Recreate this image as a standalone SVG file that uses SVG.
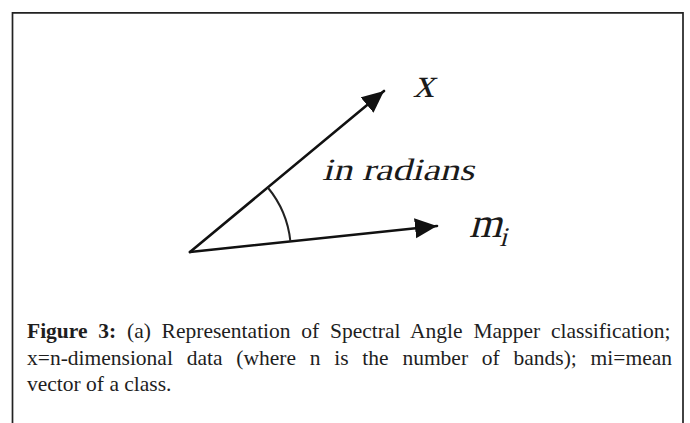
<svg xmlns="http://www.w3.org/2000/svg" width="690" height="423" viewBox="0 0 690 423">
  <style>
    .vec { stroke: #111; stroke-width: 2.6; fill: none; stroke-linecap: round; }
    .arc { stroke: #222; stroke-width: 2; fill: none; }
    .math { font-family: "Liberation Serif", "Times New Roman", serif; fill: #1a1a1a; }
    .cap { font-family: "Liberation Serif", "Times New Roman", serif; font-size: 21.5px; fill: #1e1e1e; }
    .bold { font-weight: bold; }
  </style>
  <defs>
    <marker id="arrow" markerUnits="userSpaceOnUse" markerWidth="24" markerHeight="22" refX="22" refY="10" orient="auto">
      <path d="M0,0 L22,10 L0,20 Z" fill="#111"/>
    </marker>
  </defs>
  <rect width="690" height="423" fill="#ffffff"/>
  <g id="frame">
    <path d="M12.5,424 V12.8 H683 V424" fill="none" stroke="#222" stroke-width="1.7"/>
  </g>
  <g id="connectors">
    <line id="vec-x" class="vec" x1="190" y1="252" x2="384" y2="91" marker-end="url(#arrow)"/>
    <line id="vec-m" class="vec" x1="190" y1="252" x2="437" y2="226" marker-end="url(#arrow)"/>
    <path id="angle-arc" class="arc" d="M267.8,187.5 A101,101 0 0 1 290.4,241.4"/>
  </g>
  <g id="label-x" transform="translate(413,97) skewX(-15)">
    <text class="math" x="0" y="0" font-size="42">x</text>
  </g>
  <g id="label-angle" transform="translate(322,180) skewX(-15)">
    <text class="math" x="0" y="0" font-size="31" textLength="152" lengthAdjust="spacingAndGlyphs">in radians</text>
  </g>
  <g id="label-mi" transform="translate(469,237) skewX(-15)">
    <text class="math" x="0" y="0" font-size="42">m<tspan font-size="27" dy="9">i</tspan></text>
  </g>
  <g id="caption">
    <text class="cap" x="27" y="338" word-spacing="5.4"><tspan class="bold">Figure 3:</tspan> (a) Representation of Spectral Angle Mapper classification;</text>
    <text class="cap" x="27" y="364.5" word-spacing="8.4">x=n-dimensional data (where n is the number of bands); mi=mean</text>
    <text class="cap" x="27" y="391">vector of a class.</text>
  </g>
</svg>
